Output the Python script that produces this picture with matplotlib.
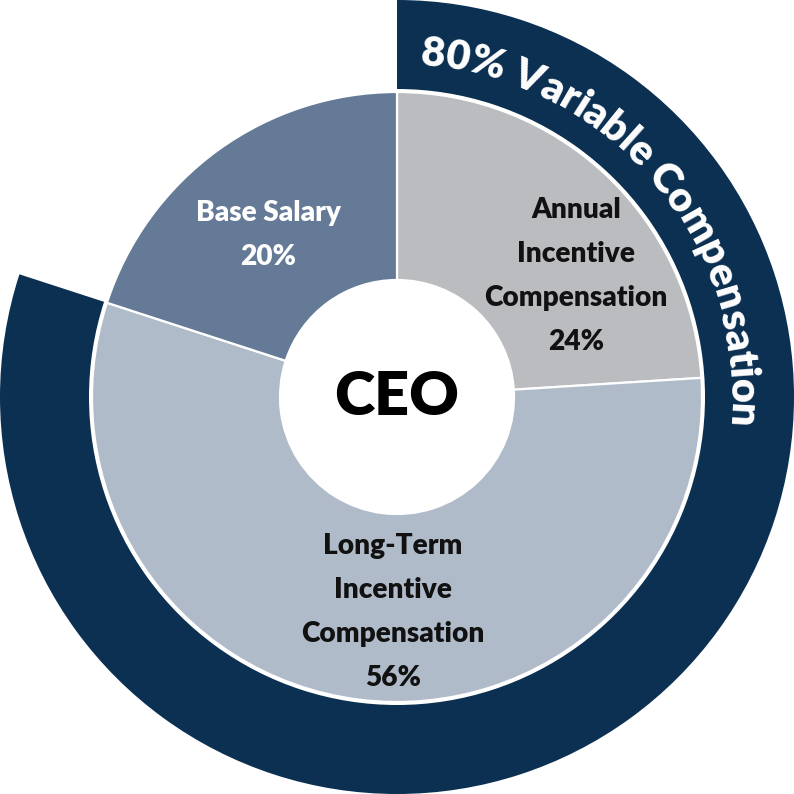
import numpy as np
import matplotlib.pyplot as plt

# pay mix for the CEO
segments = ['Annual Incentive Compensation', 'Long-Term Incentive Compensation', 'Base Salary']
short_labels = ['Annual\nIncentive\nCompensation', 'Long-Term\nIncentive\nCompensation', 'Base Salary']
shares = [24, 56, 20]
variable_share = [80, 20]
ring_title = '80% Variable Compensation'
center_label = 'CEO'

NAVY = '#0b3052'
seg_colors = ['#bbbcbf', '#b0bbca', '#647a96']
text_colors = ['#111111', '#111111', 'white']
label_xy = [(179, 121), (-4, -215), (-129, 162)]

FONT = 'Lato'
W = 'heavy'
plt.rcParams['font.family'] = [FONT, 'DejaVu Sans']

fig = plt.figure(figsize=(7.94, 7.94), dpi=100)
ax = fig.add_axes([0, 0, 1, 1])

# outer ring: variable pay
ax.pie(variable_share, radius=397, startangle=90, counterclock=False,
       colors=[NAVY, 'none'], wedgeprops=dict(width=89, linewidth=0))

# inner donut: the three components
ax.pie(shares, radius=305, startangle=90, counterclock=False,
       colors=seg_colors, wedgeprops=dict(width=188, edgecolor='white', linewidth=1.6))

ax.set_xlim(-397, 397)
ax.set_ylim(-397, 397)
ax.set_aspect('equal')
ax.axis('off')

for lab, val, xy, col in zip(short_labels, shares, label_xy, text_colors):
    ax.text(xy[0], xy[1], f'{lab}\n{val}%', ha='center', va='center', color=col,
            fontsize=20.2, fontweight=W, linespacing=1.86)

ax.text(0, 0, center_label, ha='center', va='center', fontsize=44,
        fontweight=W, color='black')

# curved title along the ring
fig.canvas.draw()
renderer = fig.canvas.get_renderer()
title_fs = 30

def text_width(s):
    t = ax.text(0, 0, s, fontsize=title_fs, fontweight=W)
    w = t.get_window_extent(renderer).width
    t.remove()
    return w

bar_w = text_width('|')
edges = [0.0] + [text_width(ring_title[:i + 1] + '|') - bar_w for i in range(len(ring_title))]
total = edges[-1]
r_base = 333
mid_angle = np.radians(40.5)
start = mid_angle + total / 2 / r_base
for i, ch in enumerate(ring_title):
    if ch == ' ':
        continue
    pos = (edges[i] + edges[i + 1]) / 2
    th = start - pos / r_base
    ax.text(r_base * np.cos(th), r_base * np.sin(th), ch, color='white',
            fontsize=title_fs, fontweight=W, ha='center', va='baseline',
            rotation=np.degrees(th) - 90, rotation_mode='anchor')

fig.savefig('out.png', dpi=100)
